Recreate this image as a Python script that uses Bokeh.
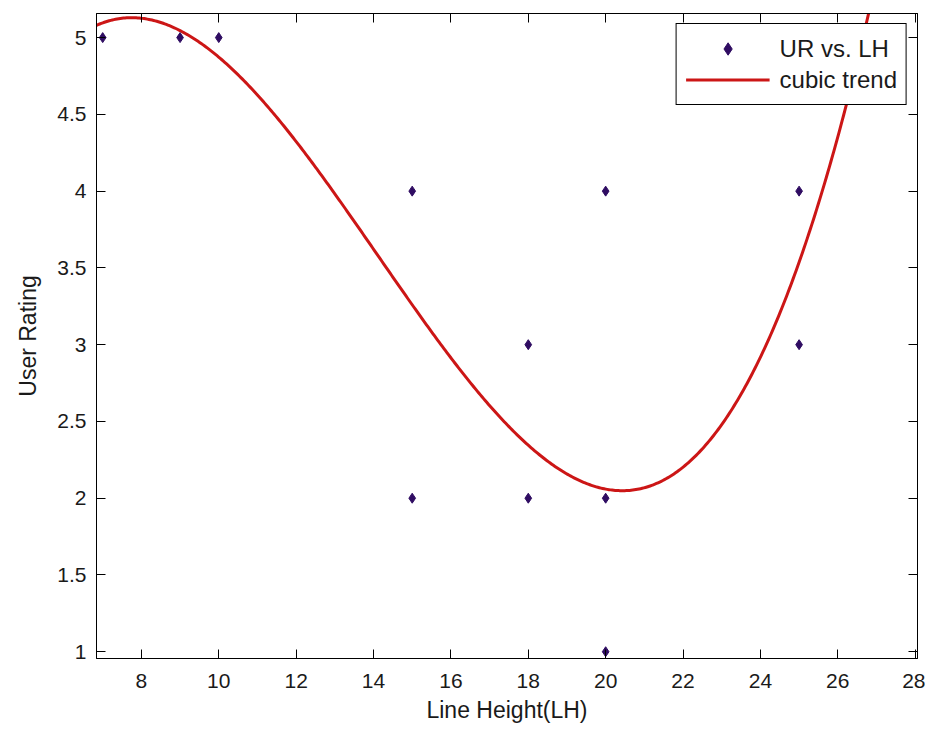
import numpy as np
from bokeh.plotting import figure
from bokeh.models import LinearAxis, Range1d, FixedTicker, Legend, LegendItem, ColumnDataSource
from bokeh.embed import file_html
from bokeh.resources import INLINE

# ---- data ----
line_height = [7, 9, 10, 15, 15, 18, 18, 20, 20, 20, 25, 25]
user_rating = [5, 5, 5, 4, 2, 3, 2, 4, 2, 1, 4, 3]
# samples of the cubic trend curve
curve_x = [6.86, 7.3, 7.76, 8.3, 8.97, 10.0, 10.69, 11.38, 11.98, 12.84, 13.71,
           14.02, 14.78, 15.65, 16.51, 17.37, 18.02, 18.66, 19.53, 20.39, 20.9,
           21.76, 22.63, 23.49, 24.35, 25.04, 25.55, 26.07, 26.24, 26.85]
curve_y = [5.08, 5.115, 5.13, 5.11, 5.02, 4.87, 4.73, 4.565, 4.35, 4.045, 3.70,
           3.59, 3.33, 3.04, 2.77, 2.51, 2.335, 2.205, 2.085, 2.015, 2.025,
           2.13, 2.36, 2.725, 3.18, 3.58, 3.96, 4.45, 4.57, 5.15]
x_ticks = [8, 10, 12, 14, 16, 18, 20, 22, 24, 26, 28]
y_ticks = [1, 1.5, 2, 2.5, 3, 3.5, 4, 4.5, 5]
x_lim = (6.84, 28.06)
y_lim = (0.956, 5.157)

# the trend is a cubic: fit it to the read samples so it is drawn smooth
coef = np.polyfit(curve_x, curve_y, 3)
trend_x = np.linspace(x_lim[0], 27.3, 500)
trend_y = np.polyval(coef, trend_x)

FONT = "Liberation Sans"
TXT = "#1a1a1a"

p = figure(width=925, height=725, output_backend="svg", toolbar_location=None,
           x_range=Range1d(*x_lim), y_range=Range1d(*y_lim),
           min_border_left=96, min_border_right=8, min_border_top=13, min_border_bottom=66,
           x_axis_label="Line Height(LH)", y_axis_label="User Rating")
p.background_fill_color = "white"
p.border_fill_color = "white"
p.outline_line_color = "black"
p.outline_line_width = 1
p.xgrid.visible = False
p.ygrid.visible = False

for ax, ticks in ((p.xaxis[0], x_ticks), (p.yaxis[0], y_ticks)):
    ax.ticker = FixedTicker(ticks=ticks)
    ax.major_tick_in = 9
    ax.major_tick_out = 0
    ax.minor_tick_line_color = None
    ax.axis_line_color = "black"
    ax.major_tick_line_color = "black"
    ax.major_label_text_font = FONT
    ax.major_label_text_font_size = "21px"
    ax.major_label_text_color = TXT
    ax.axis_label_text_font = FONT
    ax.axis_label_text_font_size = "23px"
    ax.axis_label_text_font_style = "normal"
    ax.axis_label_text_color = TXT

p.xaxis.major_label_standoff = 15
p.xaxis.axis_label_standoff = 6
p.yaxis.major_label_standoff = 10
p.yaxis.axis_label_standoff = 13
p.xaxis.major_label_overrides = {t: str(t) for t in x_ticks}

# box ticks on top and right
for loc, ticks in (("above", x_ticks), ("right", y_ticks)):
    ax = LinearAxis(ticker=FixedTicker(ticks=ticks))
    ax.major_tick_in = 9
    ax.major_tick_out = 0
    ax.minor_tick_line_color = None
    ax.major_label_text_font_size = "0px"
    ax.major_label_standoff = 0
    ax.axis_line_color = "black"
    ax.major_tick_line_color = "black"
    p.add_layout(ax, loc)

src = ColumnDataSource(dict(x=line_height, y=user_rating))
r_line = p.line(trend_x, trend_y, line_color="#cc1616", line_width=3, line_join="round")
r_pts = p.scatter("x", "y", source=src, marker="diamond", size=10,
                  fill_color="#2f0c62", line_color="#2f0c62")

legend = Legend(items=[LegendItem(label="UR vs. LH", renderers=[r_pts]),
                       LegendItem(label="cubic trend", renderers=[r_line])],
                location="top_right", margin=10, padding=9, spacing=0,
                glyph_width=84, glyph_height=31, label_height=31, label_standoff=10,
                label_text_font=FONT, label_text_font_size="24px", label_text_color=TXT,
                border_line_color="black", border_line_width=1, border_line_alpha=1,
                background_fill_color="white", background_fill_alpha=1)
p.add_layout(legend)

open("out.html", "w").write(file_html(p, INLINE))
